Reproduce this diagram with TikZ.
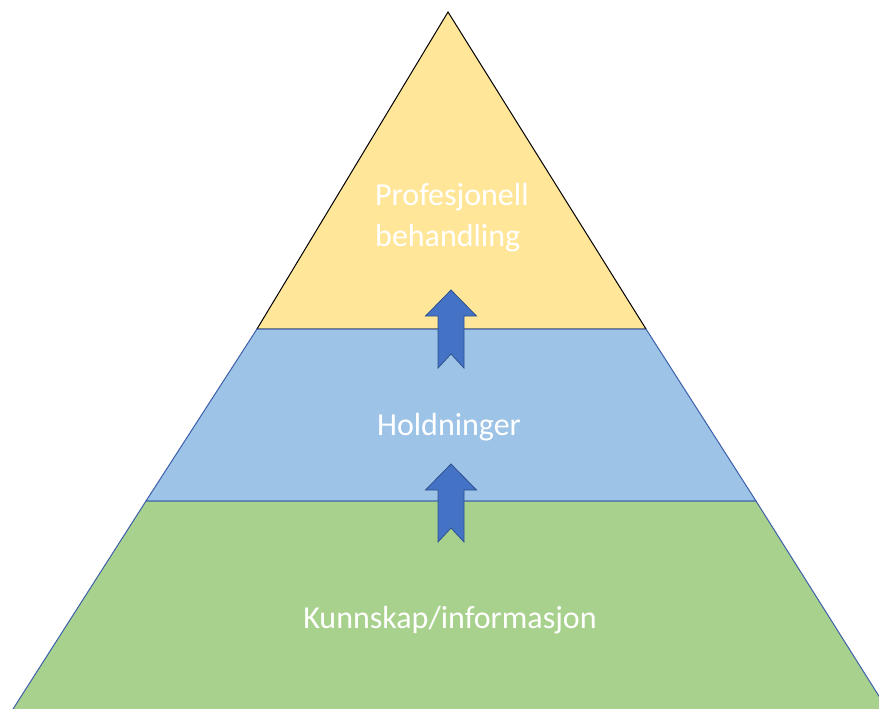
\documentclass[tikz,border=0pt]{standalone}
\usepackage{fontspec}
\setmainfont{Carlito}
\usetikzlibrary{positioning}
\definecolor{layeryellow}{RGB}{255,230,153}
\definecolor{layerblue}{RGB}{157,195,230}
\definecolor{layergreen}{RGB}{169,209,142}
\definecolor{arrowfill}{RGB}{68,114,196}
\definecolor{arrowedge}{RGB}{47,82,143}
\definecolor{bandedge}{RGB}{60,95,170}

\begin{document}
\begin{tikzpicture}[
    x=1pt, y=-1pt,
    layer/.style={line width=1pt, line join=miter},
    lbl/.style={text=white, font=\fontsize{32}{41}\selectfont, inner sep=0pt},
    uparrow/.pic={
        \draw[line width=0.8pt, arrowedge, fill=arrowfill, line join=miter]
            (0,0) -- (25.5,26) -- (13,26) -- (13,78) -- (0,64)
            -- (-13,78) -- (-13,26) -- (-25.5,26) -- cycle;
    }
]
\clip (0,0) rectangle (879,709);

% ============ layers ============
\coordinate (apex) at (448,12);
\coordinate (yl) at (257,329);
\coordinate (yr) at (646,329);
\coordinate (bl) at (146,501);
\coordinate (br) at (756,501);
\coordinate (gl) at (6,720);
\coordinate (gr) at (894,720);

\draw[layer, fill=layeryellow, draw=black] (apex) -- (yr) -- (yl) -- cycle;
\draw[layer, fill=layerblue, draw=bandedge] (yl) -- (yr) -- (br) -- (bl) -- cycle;
\draw[layer, fill=layergreen, draw=bandedge] (bl) -- (br) -- (gr) -- (gl) -- cycle;

% ============ arrows ============
\pic at (451,290) {uparrow};
\pic at (451,464) {uparrow};

% ============ labels ============
\node[lbl, align=left, anchor=base west] (handling) at (375,246) {Profesjonell\\behandling};
\node[lbl, anchor=base] (holdninger) at (449,435) {Holdninger};
\node[lbl, anchor=base] (kunnskap) at (450,628) {Kunnskap/informasjon};

\end{tikzpicture}
\end{document}
